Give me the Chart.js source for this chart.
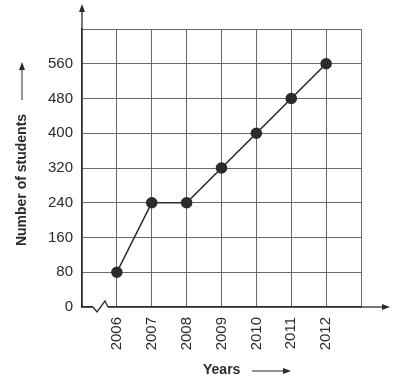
<!DOCTYPE html>
<html>
<head>
<meta charset="utf-8">
<script src="https://cdn.jsdelivr.net/npm/chart.js@4.4.1/dist/chart.umd.min.js"></script>
<style>
  html, body { margin: 0; padding: 0; background: #fff; }
  #wrap { width: 398px; height: 383px; position: relative; }
</style>
</head>
<body>
<div id="wrap"><canvas id="chart"></canvas></div>
<script>
// values
const years = [2006, 2007, 2008, 2009, 2010, 2011, 2012];
const students = [80, 240, 240, 320, 400, 480, 560];
const yTickStep = 80;
const yMax = 640;
const xMin = 2005;
const xMax = 2013;

const INK = '#2b2b2b';
const GRID = '#6a6a6a';
const FONT = '"Liberation Sans", Arial, sans-serif';

function arrowHead(ctx, x, y, dir) {
  // small filled triangle pointing in dir ('up' | 'right')
  ctx.beginPath();
  if (dir === 'up') {
    ctx.moveTo(x, y);
    ctx.lineTo(x - 3, y + 8);
    ctx.lineTo(x + 3, y + 8);
  } else {
    ctx.moveTo(x, y);
    ctx.lineTo(x - 8, y - 3);
    ctx.lineTo(x - 8, y + 3);
  }
  ctx.closePath();
  ctx.fill();
}

// axis arrows, zigzag break and the two axis titles
const decorations = {
  id: 'decorations',
  afterDraw(chart) {
    const { ctx, chartArea: a } = chart;
    ctx.save();
    ctx.strokeStyle = INK;
    ctx.fillStyle = INK;
    ctx.lineWidth = 1.3;

    // y axis extension + arrow
    ctx.beginPath();
    ctx.moveTo(a.left, a.top);
    ctx.lineTo(a.left, 10);
    ctx.stroke();
    arrowHead(ctx, a.left, 4, 'up');

    // x axis extension + arrow
    ctx.beginPath();
    ctx.moveTo(a.right, a.bottom);
    ctx.lineTo(383, a.bottom);
    ctx.stroke();
    arrowHead(ctx, 390, a.bottom, 'right');

    // zigzag break on x axis
    ctx.fillStyle = '#fff';
    ctx.fillRect(a.left + 11, a.bottom - 2, 15, 4);
    ctx.beginPath();
    ctx.moveTo(a.left + 11, a.bottom);
    ctx.lineTo(a.left + 15, a.bottom + 5);
    ctx.lineTo(a.left + 23, a.bottom - 6);
    ctx.lineTo(a.left + 26, a.bottom);
    ctx.stroke();

    // y title
    ctx.fillStyle = INK;
    ctx.font = 'bold 14px ' + FONT;
    ctx.textAlign = 'center';
    ctx.textBaseline = 'middle';
    ctx.save();
    ctx.translate(22, 180);
    ctx.rotate(-Math.PI / 2);
    ctx.fillText('Number of students', 0, 0);
    ctx.restore();
    ctx.lineWidth = 1;
    ctx.beginPath();
    ctx.moveTo(22, 100);
    ctx.lineTo(22, 68);
    ctx.stroke();
    arrowHead(ctx, 22, 62, 'up');

    // x title
    ctx.textAlign = 'left';
    ctx.fillText('Years', 203, 370);
    ctx.beginPath();
    ctx.moveTo(252, 371);
    ctx.lineTo(284, 371);
    ctx.stroke();
    arrowHead(ctx, 291, 371, 'right');
    ctx.restore();
  }
};

new Chart(document.getElementById('chart'), {
  type: 'line',
  data: {
    datasets: [{
      data: years.map((yr, i) => ({ x: yr, y: students[i] })),
      borderColor: INK,
      borderWidth: 1.6,
      pointRadius: 5,
      pointBackgroundColor: INK,
      pointBorderColor: INK,
      tension: 0
    }]
  },
  options: {
    responsive: true,
    maintainAspectRatio: false,
    animation: false,
    layout: { padding: { top: 29, right: 37, left: 0, bottom: 0 } },
    plugins: { legend: { display: false }, tooltip: { enabled: false } },
    scales: {
      x: {
        type: 'linear',
        min: xMin,
        max: xMax,
        afterFit: (s) => { s.height = 76; },
        ticks: {
          stepSize: 1,
          autoSkip: false,
          minRotation: 90,
          maxRotation: 90,
          padding: 10,
          color: INK,
          font: { family: FONT, size: 15 },
          callback: (v) => (years.includes(v) ? String(v) : '')
        },
        grid: { color: GRID, lineWidth: 1, drawTicks: false },
        border: { color: INK, width: 1.3 }
      },
      y: {
        min: 0,
        max: yMax,
        afterFit: (s) => { s.width = 82; },
        ticks: {
          stepSize: yTickStep,
          padding: 9,
          color: INK,
          font: { family: FONT, size: 15 },
          callback: (v) => (v >= yMax ? '' : String(v))
        },
        grid: { color: GRID, lineWidth: 1, drawTicks: false },
        border: { color: INK, width: 1.3 }
      }
    }
  },
  plugins: [decorations]
});
</script>
</body>
</html>
